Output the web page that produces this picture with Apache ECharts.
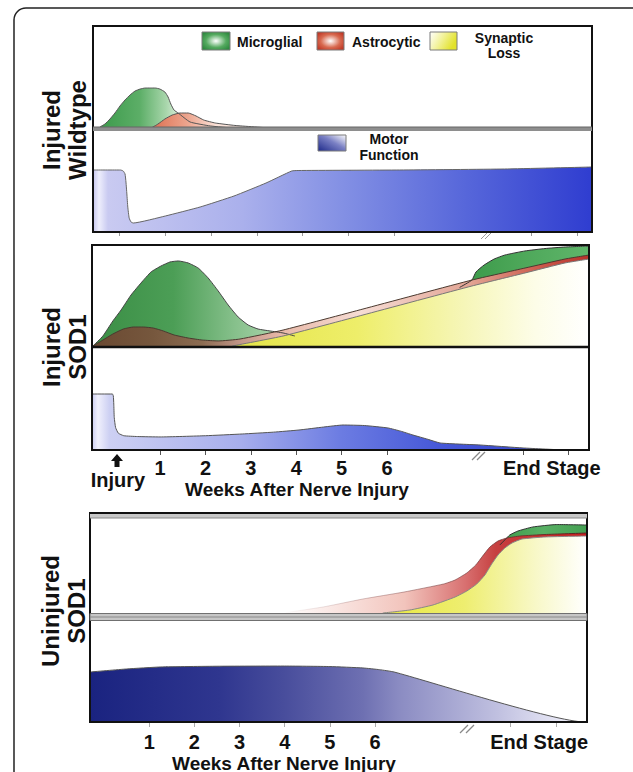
<!DOCTYPE html>
<html>
<head>
<meta charset="utf-8">
<script src="https://cdn.jsdelivr.net/npm/echarts@6/dist/echarts.min.js"></script>
<style>
  html, body { margin: 0; padding: 0; background: #fff; }
  #chart { width: 633px; height: 772px; }
</style>
</head>
<body>
<div id="chart"></div>
<script>
// values are [weeks after injury, relative level 0-100]
// injured wildtype
const wtMicroglial = [[-0.43, 1], [-0.32, 3.9], [-0.21, 8.8], [-0.10, 14.7], [0.01, 21.6], [0.12, 27.5], [0.23, 32.4], [0.34, 36.3], [0.45, 38.2], [0.56, 39.2], [0.67, 39.2], [0.78, 39.2], [0.88, 38.2], [0.99, 35.3], [1.06, 30.4], [1.12, 23.5], [1.19, 17.6], [1.28, 14.7], [1.54, 5.9], [1.98, 2], [2.46, 0]];
const wtAstrocytic = [[0.69, 0], [0.84, 3.9], [0.99, 8.8], [1.15, 12.7], [1.32, 14.7], [1.50, 14.7], [1.67, 11.8], [1.84, 7.8], [2.09, 4.9], [2.52, 2.5], [3.29, 0]];
const wtMotor = [[-0.58, 62], [0.02, 62], [0.08, 61], [0.12, 58], [0.14, 50], [0.16, 38], [0.18, 25], [0.21, 14], [0.25, 10], [0.3, 9], [1.0, 16], [1.76, 25], [2.5, 36], [3.2, 49], [3.76, 61], [3.9, 61.5], [6.12, 62], [8.41, 63], [10.32, 65]];

// injured SOD1
const sodMicroglialEarly = [[-0.48, 0], [-0.26, 9.9], [-0.04, 24.8], [0.14, 35.6], [0.36, 50.5], [0.58, 62.4], [0.80, 73.3], [1.02, 79.2], [1.22, 83.2], [1.40, 84.2], [1.62, 82.2], [1.84, 77.2], [2.06, 67.3], [2.28, 54.5], [2.50, 40.6], [2.72, 28.7], [2.94, 20.8], [3.16, 16.8], [3.42, 14.9], [3.71, 12.9], [3.97, 9.9]];
const sodMicroglialLate = [[7.6, 58], [7.87, 65.3], [7.96, 73.3], [8.14, 80.2], [8.36, 86.1], [8.60, 90.1], [9.04, 94.1], [9.48, 96.5], [9.92, 98], [10.45, 99]];
const sodAstrocytic = [[-0.48, 0], [-0.26, 5.9], [-0.04, 11.9], [0.19, 16.8], [0.41, 18.8], [0.63, 18.8], [0.85, 17.8], [1.07, 14.9], [1.31, 10.9], [1.62, 7.9], [1.93, 5.9], [2.28, 5.0], [2.76, 6.9], [3.71, 15.8], [5.47, 36.6], [7.87, 65.3], [9.04, 77.2], [9.92, 86.1], [10.45, 90.1]];
const sodSynaptic = [[2.59, 0], [3.71, 9.9], [5.47, 30.7], [7.87, 59.4], [9.04, 72.3], [9.92, 82.2], [10.45, 86.1]];
const sodMotor = [[-0.5, 54.9], [-0.05, 54.9], [-0.03, 53], [-0.02, 45], [-0.01, 32], [0.02, 22], [0.08, 16.5], [0.2, 14], [0.5, 13.2], [1.0, 12.8], [2.0, 14], [2.81, 15.7], [3.5, 17.5], [4.06, 19.6], [4.6, 22.5], [5.03, 24.5], [5.5, 24], [6.02, 21.6], [6.3, 18.5], [6.57, 14.7], [6.9, 10.5], [7.17, 6.9], [7.6, 5.8], [8.05, 4.9], [9.0, 2], [9.99, 0], [10.45, 0]];

// uninjured SOD1
const unMicroglial = [[8.76, 72.3], [8.87, 77.7], [8.98, 83], [9.16, 87.2], [9.49, 91.5], [10.02, 94.1], [10.69, 93.6]];
const unAstrocytic = [[3.96, 0], [4.85, 6.4], [5.73, 14.9], [6.64, 22.3], [7.52, 30.9], [7.77, 35.1], [8.03, 42.6], [8.23, 51.1], [8.38, 60.6], [8.54, 70.2], [8.72, 76.6], [8.92, 79.8], [9.21, 81.9], [9.76, 83.5], [10.69, 85.1]];
const unSynaptic = [[6.17, 0], [6.77, 3.2], [7.28, 8.5], [7.77, 17], [8.03, 23.4], [8.25, 30.9], [8.43, 40.4], [8.58, 52.1], [8.72, 61.7], [8.87, 69.1], [9.03, 74.5], [9.25, 78.7], [9.76, 80.9], [10.69, 81.9]];
const unMotor = [[-0.31, 49.5], [0.5, 52.5], [1.26, 54.5], [2.5, 55.2], [3.96, 55.4], [5.0, 54.9], [5.73, 53.5], [6.1, 51.8], [6.42, 49.5], [10.64, 0], [10.69, 0]];

// axis ticks / labels
const wtTicks = [0, 1, 2, 3, 4, 5, 6, 9, 10];
const weekTicks = [1, 2, 3, 4, 5, 6, 9, 10];
const weekLabels = [1, 2, 3, 4, 5, 6];
const endStageAt = 9.63;

const FONT = '"Liberation Sans", Arial, sans-serif';

function grad(stops) {
  return { type: 'linear', x: 0, y: 0, x2: 1, y2: 0,
    colorStops: stops.map(s => ({ offset: s[0], color: s[1] })) };
}

function area(name, data, gi, fill, stroke) {
  return {
    name: name, type: 'line', xAxisIndex: gi, yAxisIndex: gi,
    data: data, smooth: 0.15, showSymbol: false,
    silent: true, animation: false,
    lineStyle: { color: stroke || '#555', width: 1 },
    areaStyle: { color: fill, opacity: 1 }
  };
}

const grids = [
  { left: 93, top: 26, width: 499, height: 102 },
  { left: 93, top: 132, width: 499, height: 100 },
  { left: 92, top: 245, width: 497, height: 101 },
  { left: 92, top: 348, width: 497, height: 102 },
  { left: 90, top: 519, width: 497, height: 94 },
  { left: 90, top: 621, width: 497, height: 101 }
];
const ranges = [[-0.58, 10.32], [-0.58, 10.32], [-0.5, 10.45], [-0.5, 10.45], [-0.31, 10.69], [-0.31, 10.69]];

function labelFmt(v) { return v > 8 ? 'End Stage' : String(v); }

const xAxes = ranges.map((r, i) => {
  const ax = { type: 'value', gridIndex: i, min: r[0], max: r[1], show: false };
  if (i === 1) {
    Object.assign(ax, { show: true, axisLine: { show: false }, splitLine: { show: false },
      axisTick: { show: true, customValues: wtTicks, length: 4, lineStyle: { color: '#999' } },
      axisLabel: { show: false } });
  }
  if (i === 3 || i === 5) {
    Object.assign(ax, { show: true, axisLine: { show: false }, splitLine: { show: false },
      axisTick: { show: true, customValues: weekTicks, length: 5, lineStyle: { color: i === 3 ? '#555' : '#aaa' } },
      axisLabel: { show: true, customValues: weekLabels.concat([endStageAt]), formatter: labelFmt,
        margin: i === 3 ? 10 : 12, lineHeight: 15, color: '#111', fontSize: 20, fontWeight: 'bold', fontFamily: FONT } });
  }
  return ax;
});
const yAxes = grids.map((g, i) => ({ type: 'value', gridIndex: i, min: 0, max: 100, show: false }));

const greenLight = grad([[0, '#3c9a4b'], [0.3, '#5cae67'], [0.5, '#a8d6ab'], [0.62, '#e4f3e4'], [0.78, '#c4e3c4'], [1, '#a6d3a6']]);
const astroLight = grad([[0, '#de6f50'], [0.3, '#eca48d'], [0.55, '#fbe2d8'], [1, '#fff4ef']]);
const wtMotorFill = grad([[0, '#c6c6ef'], [0.012, '#eeeefc'], [0.03, '#c9caf1'], [0.3, '#aab0ec'], [0.5, '#8390e4'], [0.75, '#5666da'], [1, '#2f3dd0']]);

const sodGreenEarly = grad([[0, '#3a8e45'], [0.4, '#4c9e56'], [0.7, '#86c08b'], [1, '#b8dcb8']]);
const sodGreenLate = grad([[0, '#3a9848'], [0.5, '#4ea85a'], [1, '#5fb56a']]);
const sodAstroFill = grad([[0, '#6a4932'], [0.12, '#76573d'], [0.22, '#8c6c52'], [0.3, '#c4978a'], [0.38, '#e8b8a8'], [0.54, '#f6dcd4'], [0.76, '#e2a494'], [0.9, '#cc5a4c'], [1, '#b8302a']]);
const sodYellowFill = grad([[0, '#e4e448'], [0.35, '#eeee6a'], [0.65, '#f6f6b8'], [0.85, '#fdfde8'], [1, '#ffffff']]);
const sodMotorFill = grad([[0, '#cccdf2'], [0.012, '#f0f0fc'], [0.035, '#cdd0f3'], [0.3, '#a7aeec'], [0.5, '#6c7ce2'], [0.7, '#4658d8'], [1, '#3242cc']]);

const unGreenFill = grad([[0, '#3c9a4a'], [0.5, '#58b064'], [1, '#44a052']]);
const unRedFill = grad([[0, '#ffffff'], [0.4, '#f2c4bc'], [0.6, '#d87070'], [0.7, '#c64040'], [1, '#c41e1e']]);
const unRedStroke = grad([[0, 'rgba(120,60,60,0)'], [0.4, 'rgba(120,60,60,0.45)'], [1, '#5a2020']]);
const unYellowFill = grad([[0, '#e8e840'], [0.4, '#eeee70'], [0.75, '#f8f8c8'], [1, '#ffffff']]);
const unMotorFill = grad([[0, '#1a2380'], [0.26, '#2f368f'], [0.39, '#484d9c'], [0.55, '#6e70b2'], [0.62, '#8a8bc2'], [0.82, '#c0c0e0'], [0.96, '#ececf8'], [1, '#f6f6fc']]);

const series = [
  area('Microglial', wtMicroglial, 0, greenLight),
  area('Astrocytic', wtAstrocytic, 0, astroLight),
  area('Motor Function', wtMotor, 1, wtMotorFill, '#666'),

  area('Microglial', sodMicroglialEarly, 2, sodGreenEarly, '#444'),
  area('Microglial', sodMicroglialLate, 2, sodGreenLate, '#333'),
  area('Astrocytic', sodAstrocytic, 2, sodAstroFill, '#4a3a30'),
  area('Synaptic Loss', sodSynaptic, 2, sodYellowFill, '#777'),
  area('Motor Function', sodMotor, 3, sodMotorFill, '#555'),

  area('Microglial', unMicroglial, 4, unGreenFill, '#333'),
  area('Astrocytic', unAstrocytic, 4, unRedFill, unRedStroke),
  area('Synaptic Loss', unSynaptic, 4, unYellowFill, '#888'),
  area('Motor Function', unMotor, 5, unMotorFill, '#555')
];

function txt(x, y, text, size, extra) {
  return Object.assign({ type: 'text', x: x, y: y, z: 100,
    style: Object.assign({ text: text, font: 'bold ' + size + 'px ' + FONT, fill: '#111',
      textAlign: 'center', textVerticalAlign: 'middle' }, (extra && extra.style) || {}) },
    (extra && extra.el) || {});
}
function vlabel(x, y, text) {
  return { type: 'text', x: x, y: y, rotation: Math.PI / 2, z: 100,
    style: { text: text, font: 'bold 24px ' + FONT, fill: '#111', textAlign: 'center',
      textVerticalAlign: 'middle', lineHeight: 26 } };
}
function box(x, y, w, h, stroke, lw) {
  return { type: 'rect', z: 100, shape: { x: x, y: y, width: w, height: h },
    style: { fill: 'none', stroke: stroke || '#111', lineWidth: lw || 2 } };
}
function band(x, y, w, h, fill, stroke) {
  return { type: 'rect', z: 101, shape: { x: x, y: y, width: w, height: h },
    style: { fill: fill, stroke: stroke || null, lineWidth: 1 } };
}
function seg(x1, y1, x2, y2, color, lw) {
  return { type: 'line', z: 101, shape: { x1: x1, y1: y1, x2: x2, y2: y2 },
    style: { stroke: color, lineWidth: lw || 1 } };
}
function swatch(x, y, w, h, fill) {
  return { type: 'rect', z: 100, shape: { x: x, y: y, width: w, height: h },
    style: { fill: fill, stroke: '#7a7a7a', lineWidth: 1 } };
}
function radial(c) {
  return { type: 'radial', x: 0.5, y: 0.5, r: 0.6,
    colorStops: [{ offset: 0, color: '#ffffff' }, { offset: 0.6, color: c[0] }, { offset: 1, color: c[1] }] };
}

const graphics = [
  // outer frame
  { type: 'rect', z: 99, shape: { x: 14, y: 8, width: 640, height: 820, r: 12 },
    style: { fill: 'none', stroke: '#222', lineWidth: 1.5 } },

  // panel 1
  band(93, 127, 499, 4, '#8e8e8e'),
  seg(93, 127, 592, 127, '#666', 1),
  box(93, 26, 499, 206),
  seg(481, 239, 487, 233, '#999', 1), seg(485, 239, 491, 233, '#999', 1),

  // panel 2
  seg(92, 347, 589, 347, '#111', 2.5),
  box(92, 245, 497, 205),
  seg(472, 460, 480, 452, '#888', 1.2), seg(477, 460, 485, 452, '#888', 1.2),
  { type: 'polygon', z: 101, shape: { points: [[117, 454], [123, 461], [119.5, 461], [119.5, 467], [114.5, 467], [114.5, 461], [111, 461]] },
    style: { fill: '#111' } },
  txt(118, 480, 'Injury', 20, { style: { lineHeight: 15 } }),
  txt(297, 489, 'Weeks After Nerve Injury', 19, { style: { lineHeight: 14 } }),

  // panel 3
  band(90, 514, 497, 4, '#c8c8c8'),
  seg(90, 518, 587, 518, '#8a8a8a', 1),
  band(90, 613.5, 497, 7, '#c6c6c6', '#707070'),
  seg(90, 617, 587, 617, '#8a8a8a', 1),
  box(90, 513, 497, 209),
  seg(460, 733, 468, 725, '#888', 1.2), seg(466, 733, 474, 725, '#888', 1.2),
  txt(284, 763, 'Weeks After Nerve Injury', 19, { style: { lineHeight: 14 } }),

  // row titles
  vlabel(64, 130, 'Injured\nWildtype'),
  vlabel(64, 347, 'Injured\nSOD1'),
  vlabel(63, 611, 'Uninjured\nSOD1'),

  // legend
  swatch(202, 32, 28, 18, radial(['#55aa60', '#2f8a40'])),
  txt(237, 42, 'Microglial', 14, { style: { textAlign: 'left' } }),
  swatch(317, 32, 27, 18, radial(['#d86a50', '#c03a28'])),
  txt(352, 42, 'Astrocytic', 14, { style: { textAlign: 'left' } }),
  swatch(430, 32, 27, 18, { type: 'linear', x: 0, y: 0, x2: 1, y2: 0.4,
    colorStops: [{ offset: 0, color: '#ffffff' }, { offset: 0.5, color: '#f2f29a' }, { offset: 1, color: '#e2e22a' }] }),
  txt(504, 45.5, 'Synaptic\nLoss', 14, { style: { lineHeight: 15 } }),
  swatch(318, 135, 28, 16, { type: 'linear', x: 0, y: 1, x2: 1, y2: 0,
    colorStops: [{ offset: 0, color: '#1e2a8a' }, { offset: 0.55, color: '#7a80c4' }, { offset: 1, color: '#ffffff' }] }),
  txt(389, 147, 'Motor\nFunction', 14, { style: { lineHeight: 16 } })
];

const chart = echarts.init(document.getElementById('chart'), null, { renderer: 'svg' });
chart.setOption({
  animation: false,
  backgroundColor: '#ffffff',
  grid: grids,
  xAxis: xAxes,
  yAxis: yAxes,
  series: series,
  graphic: graphics
});
</script>
</body>
</html>
